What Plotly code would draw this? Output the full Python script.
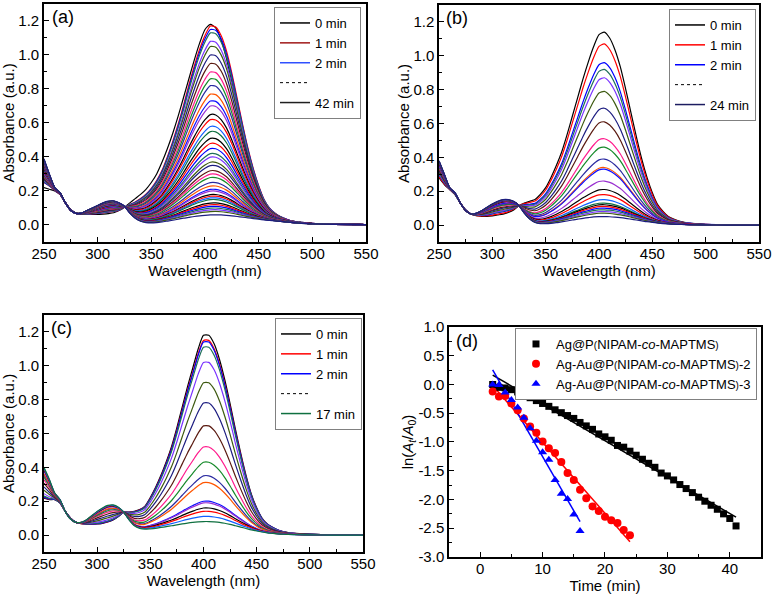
import numpy as np
import plotly.graph_objects as go

# ---- data ----
wavelength = [250, 255, 260, 265, 270, 275, 280, 285, 290, 295, 300, 305, 310, 315, 320,
              325, 330, 335, 340, 345, 350, 355, 360, 365, 370, 375, 380, 385, 390, 395,
              400, 405, 410, 415, 420, 425, 430, 435, 440, 445, 450, 455, 460, 465, 470,
              475, 480, 490, 500, 520, 550]

# (a) Ag@P(NIPAM-co-MAPTMS), 0-42 min
a_spec_0min = [.22, .21, .20, .18, .13, .09, .07, .065, .063, .062, .062, .064, .067, .072, .085,
               .105, .13, .155, .18, .21, .25, .30, .37, .45, .54, .64, .75, .86, .97, 1.07,
               1.15, 1.18, 1.16, 1.09, .98, .84, .69, .54, .40, .29, .20, .13, .09, .065, .048,
               .035, .024, .014, .009, .005, .002]
a_spec_1min = [.25, .23, .205, .18, .13, .09, .07, .065, .065, .066, .068, .072, .076, .08, .088,
               .105, .12, .135, .155, .18, .215, .26, .32, .40, .49, .59, .70, .82, .93, 1.03,
               1.11, 1.165, 1.16, 1.11, 1.02, .89, .74, .59, .45, .33, .23, .15, .10, .07, .05,
               .036, .025, .015, .009, .005, .002]
a_spec_42min = [.39, .30, .22, .19, .13, .085, .068, .07, .085, .10, .115, .13, .14, .142, .13,
                .11, .07, .04, .022, .014, .012, .014, .018, .023, .028, .034, .04, .045, .05, .054,
                .057, .059, .06, .059, .057, .054, .05, .046, .042, .038, .034, .03, .027, .024, .021,
                .018, .015, .01, .007, .004, .002]
a_peaks = [1.18, 1.17, 1.15, 1.13, 1.08, 1.05, 1.00, 0.95, 0.90, 0.86,
           0.82, 0.77, 0.73, 0.70, 0.65, 0.62, 0.58, 0.55, 0.51, 0.48,
           0.45, 0.42, 0.40, 0.37, 0.35, 0.32, 0.30, 0.28, 0.25, 0.23,
           0.21, 0.20, 0.18, 0.17, 0.16, 0.15, 0.13, 0.12, 0.11, 0.10,
           0.09, 0.08, 0.06]

# (b) Ag-Au@P(NIPAM-co-MAPTMS)-2, 0-24 min
b_spec_first = [.28, .24, .21, .18, .13, .09, .065, .055, .052, .052, .055, .06, .065, .075, .09,
                .115, .13, .14, .15, .18, .22, .28, .35, .43, .53, .64, .75, .86, .96, 1.05,
                1.12, 1.135, 1.10, 1.03, .93, .80, .66, .52, .39, .28, .19, .12, .08, .05, .035,
                .024, .016, .008, .004, .002, 0.0]
b_spec_last = [.38, .30, .22, .19, .13, .085, .065, .07, .085, .105, .125, .14, .15, .15, .14,
               .115, .07, .035, .015, .008, .008, .01, .014, .019, .024, .03, .035, .04, .044, .048,
               .05, .05, .049, .047, .044, .04, .035, .03, .025, .02, .016, .012, .009, .007, .005,
               .004, .003, .002, .001, 0.0, 0.0]
b_peaks = [1.14, 1.07, 0.96, 0.92, 0.87, 0.79, 0.69, 0.61, 0.51, 0.46,
           0.39, 0.34, 0.33, 0.26, 0.21, 0.18, 0.15, 0.13, 0.12, 0.11,
           0.10, 0.09, 0.08, 0.07, 0.05]

# (c) Ag-Au@P(NIPAM-co-MAPTMS)-3, 0-17 min
c_spec_first = [.22, .21, .21, .19, .14, .10, .075, .068, .065, .065, .066, .07, .078, .09, .11,
                .135, .135, .14, .15, .17, .22, .28, .35, .43, .52, .63, .75, .87, .98, 1.09,
                1.17, 1.17, 1.12, 1.03, .91, .77, .62, .48, .35, .24, .16, .10, .065, .045, .03,
                .02, .014, .008, .005, .002, 0.0]
c_spec_last = [.40, .33, .25, .21, .14, .095, .075, .075, .09, .115, .14, .16, .175, .178, .165,
               .135, .09, .055, .04, .035, .037, .04, .045, .05, .055, .06, .066, .071, .075, .078,
               .08, .08, .078, .075, .07, .063, .055, .047, .039, .031, .024, .018, .013, .01, .007,
               .005, .004, .002, .001, 0.0, 0.0]
c_peaks = [1.18, 1.15, 1.14, 1.11, 1.02, 0.90, 0.78, 0.645, 0.52, 0.43,
           0.35, 0.31, 0.20, 0.19, 0.16, 0.14, 0.11, 0.08]

# (d) kinetics ln(At/A0)
t_ag = list(range(2, 42))
ln_ag = [0.00, -0.05, -0.06, -0.09, -0.13, -0.19, -0.23, -0.28, -0.33, -0.38,
         -0.44, -0.49, -0.54, -0.59, -0.66, -0.72, -0.78, -0.86, -0.91, -0.97,
         -1.06, -1.09, -1.16, -1.23, -1.30, -1.37, -1.44, -1.54, -1.59, -1.66,
         -1.74, -1.81, -1.88, -1.96, -2.03, -2.10, -2.17, -2.25, -2.33, -2.46]
t_au2 = list(range(2, 25))
ln_au2 = [-0.12, -0.21, -0.20, -0.33, -0.45, -0.59, -0.73, -0.84, -0.99, -1.11,
          -1.19, -1.35, -1.54, -1.66, -1.83, -1.98, -2.12, -2.20, -2.30, -2.36,
          -2.41, -2.53, -2.62]
t_au3 = list(range(2, 17))
ln_au3 = [0.00, -0.01, -0.14, -0.27, -0.40, -0.58, -0.76, -0.98, -1.18, -1.31,
          -1.66, -1.90, -1.99, -2.26, -2.55]

wl_ticks = [250, 300, 350, 400, 450, 500, 550]
abs_ticks = [0.0, 0.2, 0.4, 0.6, 0.8, 1.0, 1.2]
time_ticks = [0, 10, 20, 30, 40]
ln_ticks = [1.0, 0.5, 0.0, -0.5, -1.0, -1.5, -2.0, -2.5, -3.0]
ln_labels = ["1.0", "0.5", "0.0", "-0.5", "-1.0", "-1.5", "-2.0", "-2.5", "-3.0"]

curve_colors = ["#000000", "#ff0000", "#0000ff", "#1f6f5a", "#7a33ff", "#3d5a10",
                "#1c1c80", "#5a1a10", "#ff1a8c", "#168a2a", "#2a2aa0", "#ff5500",
                "#1010ff", "#9a30d0", "#000000", "#ff0000", "#1060ff", "#0f7040"]

FONT = "Arial, Liberation Sans, sans-serif"


def band_peak(spec):
    # height of the 400 nm band (ignores the UV edge below 350 nm)
    return max(v for w, v in zip(wavelength, spec) if w >= 350)


def mix(first, last, peak):
    hi, lo = band_peak(first), band_peak(last)
    w = (peak - lo) / (hi - lo)
    return [l + w * (f - l) for f, l in zip(first, last)]


fig = go.Figure()


def add_spectra(spectra, xa, ya):
    for i, s in enumerate(spectra):
        fig.add_trace(go.Scatter(x=wavelength, y=s, mode="lines", xaxis=xa, yaxis=ya,
                                 line=dict(color=curve_colors[i % len(curve_colors)], width=1.2,
                                           shape="spline", smoothing=0.6),
                                 showlegend=False, hoverinfo="skip"))


def add_legend(entries, legend):
    for name, color, dash in entries:
        fig.add_trace(go.Scatter(x=[None], y=[None], mode="lines", name=name, legend=legend,
                                 line=dict(color=color, width=1.5 if dash == "solid" else 1, dash=dash)))


spec_a = [a_spec_0min] + [mix(a_spec_1min, a_spec_42min, p) for p in a_peaks[1:]]
spec_b = [mix(b_spec_first, b_spec_last, p) for p in b_peaks]
spec_c = [mix(c_spec_first, c_spec_last, p) for p in c_peaks]

add_spectra(spec_a, "x", "y")
add_spectra(spec_b, "x2", "y2")
add_spectra(spec_c, "x3", "y3")

add_legend([("0 min", "#000000", "solid"), ("1 min", "#a01818", "solid"), ("2 min", "#3050ff", "solid"),
            (" ", "#000000", "dot"), ("42 min", "#202020", "solid")], "legend")
add_legend([("0 min", "#000000", "solid"), ("1 min", "#ff0000", "solid"), ("2 min", "#0000ff", "solid"),
            (" ", "#000000", "dot"), ("24 min", "#1c1c60", "solid")], "legend2")
add_legend([("0 min", "#000000", "solid"), ("1 min", "#ff0000", "solid"), ("2 min", "#0000ff", "solid"),
            (" ", "#000000", "dot"), ("17 min", "#0f7040", "solid")], "legend3")

# (d) kinetics with linear fits
sm = "<span style='font-size:10px'>"
series_d = [
    (t_ag, ln_ag, "#000000", "square", 7, "Ag@P" + sm + "(</span>NIPAM-<i>co</i>-MAPTMS" + sm + ")</span>"),
    (t_au2, ln_au2, "#ff0000", "circle", 8, "Ag-Au@P" + sm + "(</span>NIPAM-<i>co</i>-MAPTMS" + sm + ")</span>-2"),
    (t_au3, ln_au3, "#0000ff", "triangle-up", 8, "Ag-Au@P" + sm + "(</span>NIPAM-<i>co</i>-MAPTMS" + sm + ")</span>-3"),
]
for t, v, col, sym, size, name in series_d:
    k, b = np.polyfit(t, v, 1)
    tf = [t[0], t[-1]]
    fig.add_trace(go.Scatter(x=tf, y=[k * x + b for x in tf], mode="lines", xaxis="x4", yaxis="y4",
                             line=dict(color=col, width=1.5), showlegend=False))
for t, v, col, sym, size, name in series_d:
    fig.add_trace(go.Scatter(x=t, y=v, mode="markers", xaxis="x4", yaxis="y4", name=name,
                             legend="legend4", marker=dict(color=col, symbol=sym, size=size)))


def axis(domain, anchor, rng, title, **kw):
    d = dict(domain=domain, anchor=anchor, range=rng, showgrid=False, zeroline=False,
             showline=True, linecolor="black", linewidth=1.5, mirror=True, automargin=False,
             ticks="inside", ticklen=5, tickwidth=1.2, tickcolor="black",
             tickfont=dict(family=FONT, size=15, color="black"),
             title=dict(text=title, font=dict(family=FONT, size=15, color="black"), standoff=0))
    d.update(kw)
    return d


xminor = dict(ticks="inside", ticklen=3, tickcolor="black", dtick=25, tick0=250)
yminor = dict(ticks="inside", ticklen=3, tickcolor="black", dtick=0.1, tick0=0)
x_spec = dict(tickmode="array", tickvals=wl_ticks, minor=xminor, ticklabelstandoff=-3)
y_spec = dict(tickmode="array", tickvals=abs_ticks, tickformat=".1f", minor=yminor)

layout_axes = dict(
    xaxis=axis([0.0568, 0.4729], "y", [250, 550], "Wavelength (nm)", **x_spec),
    yaxis=axis([0.5926, 0.9933], "x", [-0.1, 1.3], "Absorbance (a.u.)", **y_spec),
    xaxis2=axis([0.5672, 0.9806], "y2", [250, 550], "Wavelength (nm)", **x_spec),
    yaxis2=axis([0.5926, 0.9916], "x2", [-0.1, 1.3], "Absorbance (a.u.)", **y_spec),
    xaxis3=axis([0.0568, 0.4690], "y3", [250, 550], "Wavelength (nm)", **x_spec),
    yaxis3=axis([0.0707, 0.4697], "x3", [-0.1, 1.3], "Absorbance (a.u.)", **y_spec),
    xaxis4=axis([0.5801, 0.9832], "y4", [-5, 45], "Time (min)", tickmode="array", tickvals=time_ticks,
                ticklabelstandoff=-3,
                minor=dict(ticks="inside", ticklen=3, tickcolor="black", dtick=5, tick0=0)),
    yaxis4=axis([0.0623, 0.4495], "x4", [-3, 1], "ln(<i>A</i><sub><i>t</i></sub>/<i>A</i><sub>0</sub>)",
                tickmode="array", tickvals=ln_ticks, ticktext=ln_labels,
                minor=dict(ticks="inside", ticklen=3, tickcolor="black", dtick=0.25, tick0=0)),
)


def legend_box(x, y, size=13):
    return dict(x=x, y=y, xanchor="right", yanchor="top", bgcolor="white",
                bordercolor="#808080", borderwidth=1, tracegroupgap=0,
                font=dict(family=FONT, size=size, color="black"))


fig.update_layout(
    width=774, height=594, margin=dict(l=0, r=0, t=0, b=0),
    paper_bgcolor="white", plot_bgcolor="white",
    font=dict(family=FONT, color="black"),
    legend=legend_box(361 / 774, 1 - 7 / 594),
    legend2=legend_box(756 / 774, 1 - 9 / 594),
    legend3=legend_box(362 / 774, 1 - 318 / 594),
    legend4=legend_box(757 / 774, 1 - 328 / 594),
    **layout_axes,
)

for txt, x, y in [("(a)", 50 / 774, 1 - 5 / 594), ("(b)", 444 / 774, 1 - 6 / 594),
                  ("(c)", 49 / 774, 1 - 316 / 594), ("(d)", 454 / 774, 1 - 329 / 594)]:
    fig.add_annotation(text=txt, x=x, y=y, xref="paper", yref="paper", xanchor="left", yanchor="top",
                       showarrow=False, font=dict(family=FONT, size=18, color="black"))

# the page body has a default 8px margin; drop it so the figure sits at the window origin
fig.write_html("out.html", config={"displayModeBar": False},
               post_script="document.body.style.margin='0px';")
